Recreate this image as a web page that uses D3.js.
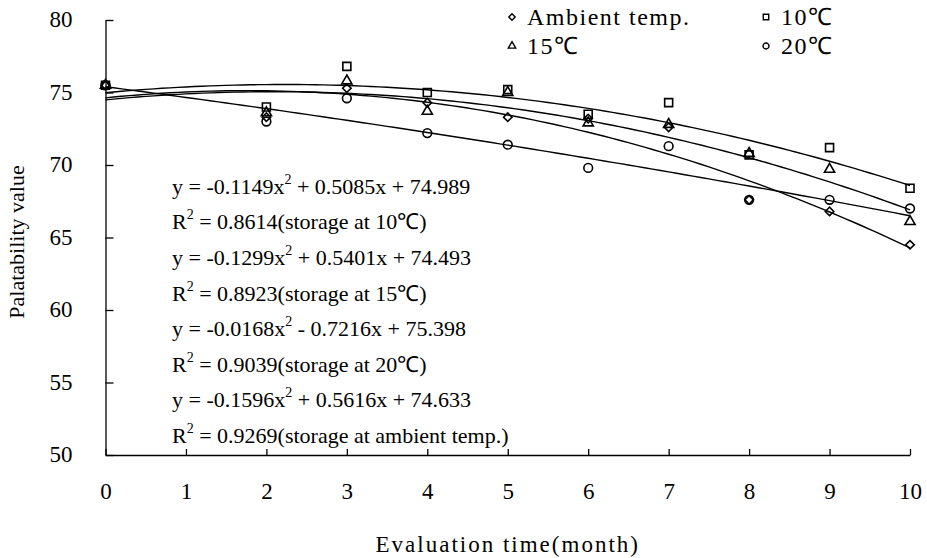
<!DOCTYPE html>
<html>
<head>
<meta charset="utf-8">
<script src="https://cdn.jsdelivr.net/npm/d3@7"></script>
<style>
  body { margin: 0; background: #fff; }
  svg text { font-family: "Liberation Serif", "Times New Roman", serif; fill: #000; }
</style>
</head>
<body>
<div id="chart"></div>
<script>
// Werte
const months = [0, 2, 3, 4, 5, 6, 7, 8, 9, 10];
const ambient = [75.5, 73.3, 75.3, 74.3, 73.3, 73.2, 72.6, 67.6, 66.8, 64.5];
const t10 = [75.5, 74.0, 76.8, 75.0, 75.2, 73.5, 74.3, 70.7, 71.2, 68.4];
const t15 = [75.5, 73.6, 75.8, 73.7, 75.0, 72.9, 72.8, 70.8, 69.7, 66.1];
const t20 = [75.5, 73.0, 74.6, 72.2, 71.4, 69.8, 71.3, 67.6, 67.6, 67.0];

// Trendlinien-Koeffizienten (a, b, c) aus den Gleichungen im Bild
const fit10 = [-0.1149, 0.5085, 74.989];
const fit15 = [-0.1299, 0.5401, 74.493];
const fit20 = [-0.0168, -0.7216, 75.398];
const fitAmb = [-0.1596, 0.5616, 74.633];

const xTicks = [0, 1, 2, 3, 4, 5, 6, 7, 8, 9, 10];
const yTicks = [50, 55, 60, 65, 70, 75, 80];

const equations = [
  ["y = -0.1149x", "2", " + 0.5085x + 74.989"],
  ["R", "2", " = 0.8614(storage at 10\u2103)"],
  ["y = -0.1299x", "2", " + 0.5401x + 74.493"],
  ["R", "2", " = 0.8923(storage at 15\u2103)"],
  ["y = -0.0168x", "2", " - 0.7216x + 75.398"],
  ["R", "2", " = 0.9039(storage at 20\u2103)"],
  ["y = -0.1596x", "2", " + 0.5616x + 74.633"],
  ["R", "2", " = 0.9269(storage at ambient temp.)"]
];

const serif = '"Liberation Serif", "Times New Roman", serif';

const margin = { top: 20, right: 17, bottom: 103, left: 105.5 };
const width = 927 - margin.left - margin.right;
const height = 558 - margin.top - margin.bottom;

const svg = d3.select("#chart").append("svg")
  .attr("width", 927)
  .attr("height", 558)
  .append("g")
  .attr("transform", "translate(" + margin.left + "," + margin.top + ")");

const x = d3.scaleLinear().domain([0, 10]).range([0, width]);
const y = d3.scaleLinear().domain([50, 80]).range([height, 0]);

// Achsen, Ticks nach innen
const xAxis = d3.axisBottom(x).tickValues(xTicks).tickSizeInner(-6).tickSizeOuter(0).tickPadding(28);
const yAxis = d3.axisLeft(y).tickValues(yTicks).tickSizeInner(-8).tickSizeOuter(0).tickPadding(33);

svg.append("g")
  .attr("transform", "translate(0," + height + ")")
  .call(xAxis)
  .attr("font-family", null).attr("font-size", null)
  .call(g => g.selectAll("text").style("font-family", serif).style("font-size", "23px"))
  .call(g => g.selectAll("line,path").attr("stroke", "#000").attr("stroke-width", 1.3));

svg.append("g")
  .call(yAxis)
  .attr("font-family", null).attr("font-size", null)
  .call(g => g.selectAll("text").style("font-family", serif).style("font-size", "23px").attr("dy", "0.3em"))
  .call(g => g.selectAll("line,path").attr("stroke", "#000").attr("stroke-width", 1.3));

// Achsentitel
svg.append("text")
  .attr("x", width / 2)
  .attr("y", 552 - margin.top)
  .attr("text-anchor", "middle")
  .style("font-size", "23px")
  .style("letter-spacing", "2px")
  .text("Evaluation time(month)");

svg.append("text")
  .attr("transform", "translate(" + (-82) + "," + (242 - margin.top) + ") rotate(-90)")
  .attr("text-anchor", "middle")
  .style("font-size", "22px")
  .text("Palatability value");

// Trendlinien
const curveX = d3.range(0, 10.0001, 0.1);
const line = d3.line().x(d => x(d[0])).y(d => y(d[1]));
[fit10, fit15, fit20, fitAmb].forEach(c => {
  svg.append("path")
    .datum(curveX.map(v => [v, c[0] * v * v + c[1] * v + c[2]]))
    .attr("fill", "none")
    .attr("stroke", "#000")
    .attr("stroke-width", 1.4)
    .attr("d", line);
});

// Punkte
const series = [
  { values: ambient, symbol: d3.symbolSquare, size: 36, rot: 45 },
  { values: t10, symbol: d3.symbolSquare, size: 64, rot: 0 },
  { values: t15, symbol: d3.symbolTriangle, size: 45, rot: 0 },
  { values: t20, symbol: d3.symbolCircle, size: 60, rot: 0 }
];

series.forEach(s => {
  svg.selectAll(null)
    .data(months.map((m, i) => [m, s.values[i]]))
    .enter().append("path")
    .attr("transform", d => "translate(" + x(d[0]) + "," + y(d[1]) + ") rotate(" + s.rot + ")")
    .attr("d", d3.symbol().type(s.symbol).size(s.size))
    .attr("fill", "none")
    .attr("stroke", "#000")
    .attr("stroke-width", 1.6);
});

// Legende
const legend = [
  { label: "Ambient temp.", symbol: d3.symbolSquare, size: 20, rot: 45, col: 0, row: 0 },
  { label: "10\u2103", symbol: d3.symbolSquare, size: 30, rot: 0, col: 1, row: 0 },
  { label: "15\u2103", symbol: d3.symbolTriangle, size: 24, rot: 0, col: 0, row: 1 },
  { label: "20\u2103", symbol: d3.symbolCircle, size: 28, rot: 0, col: 1, row: 1 }
];
const lg = svg.append("g").attr("transform", "translate(" + (512 - margin.left) + "," + (17 - margin.top) + ")");
legend.forEach(l => {
  const g = lg.append("g").attr("transform", "translate(" + (l.col * 254) + "," + (l.row * 29) + ")");
  g.append("path")
    .attr("transform", "rotate(" + l.rot + ")")
    .attr("d", d3.symbol().type(l.symbol).size(l.size))
    .attr("fill", "none").attr("stroke", "#000").attr("stroke-width", 1.4);
  g.append("text")
    .attr("x", 15).attr("dy", "0.35em")
    .style("font-size", "24px")
    .style("letter-spacing", "1.5px")
    .text(l.label);
});

// Gleichungen
equations.forEach((e, i) => {
  const t = svg.append("text")
    .attr("x", 172 - margin.left)
    .attr("y", 186 + i * 35.6 - margin.top)
    .attr("dy", "0.35em")
    .style("font-size", "22px");
  t.append("tspan").text(e[0]);
  t.append("tspan").attr("dy", -10).style("font-size", "14px").text(e[1]);
  t.append("tspan").attr("dy", 10).text(e[2]);
});
</script>
</body>
</html>
